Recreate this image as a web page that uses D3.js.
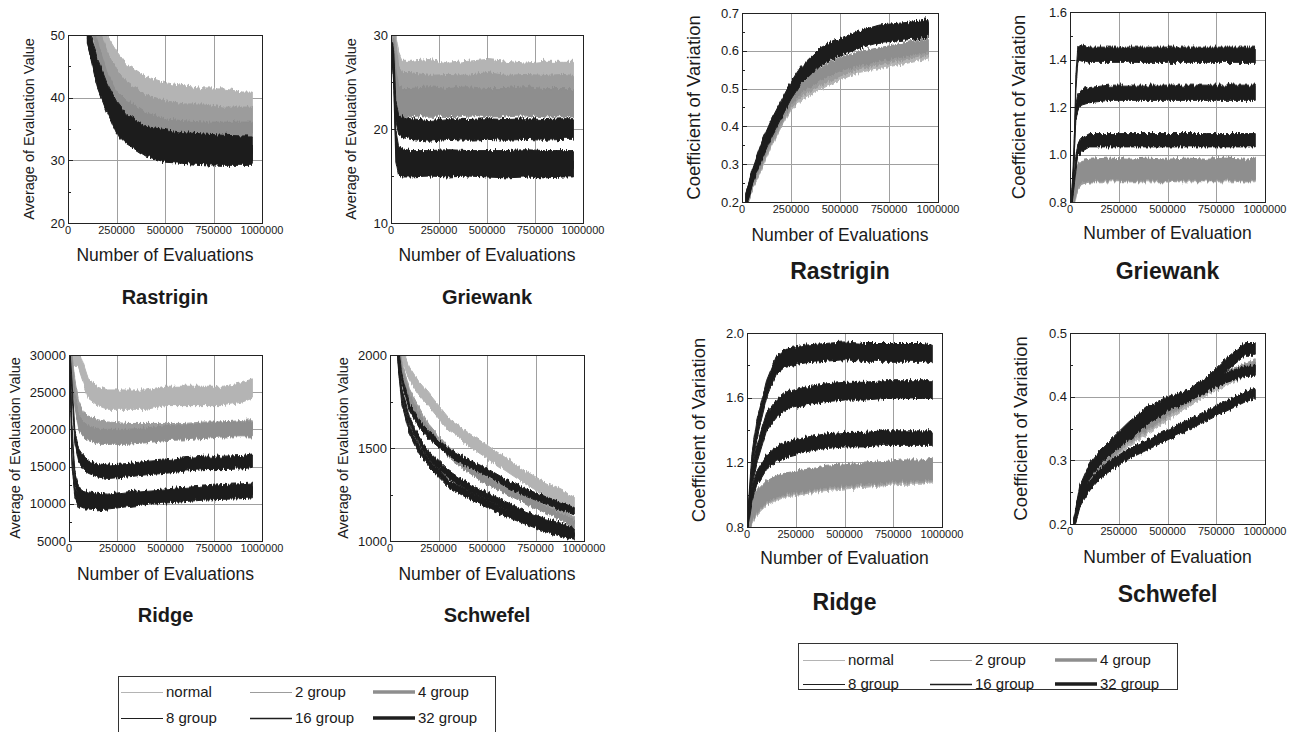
<!DOCTYPE html>
<html><head><meta charset="utf-8">
<script src="https://cdn.jsdelivr.net/npm/d3@7"></script>
<style>
body{margin:0;background:#fff;}
text{font-family:"Liberation Sans",Arial,Helvetica,sans-serif;fill:#1a1a1a;}
</style></head>
<body><svg id="chart" width="1297" height="732"></svg>
<script>
// ---------- data ----------
const seriesNames = ["normal","2 group","4 group","8 group","16 group","32 group"];
const xTickValues = [0,250000,500000,750000,1000000];

// Average of evaluation value — Rastrigin
const rastAvgX = [100000,150000,200000,250000,300000,400000,500000,600000,700000,800000,900000,950000];
const rastAvgY = [
  [60,53,47.5,45,43,41,40,39.5,39,39,38.5,38.5],
  [58,50,45.5,42.5,40.5,38.5,37.5,37,37,36.5,36.5,36.5],
  [55,48,43,40,38.5,36.5,35.5,35.2,35,35,35,35],
  [51,45,41,38,36,34,33.5,33,32.8,32.6,32.5,32.5],
  [50,44,40,37,35,33,32,31.7,31.5,31.3,31.2,31],
  [50,43,39,35.5,34,32,31,30.8,30.6,30.5,30.5,30.5]];
const rastAvgSpread = [2.4,2,1.1,1.4,1.4,1.3];

// Griewank
const griAvgX = [8000,15000,25000,40000,60000,100000,200000,300000,400000,500000,600000,700000,800000,900000,950000];
const griAvgY = [
  [28,30,28,26,25,25,25.2,24.8,25,25.2,25,24.8,25,25,25],
  [28,29,27,24.5,23.8,23.8,23.5,23.6,23.5,23.8,23.5,23.6,23.5,23.6,23.5],
  [28,28,25,23,22.8,22.8,23,22.8,23,22.8,22.8,23,22.8,22.8,22.8],
  [28,27,22,20.5,20.2,20,19.8,20,19.9,20,19.9,20,19.9,20,20],
  [28,26,19,17.2,17,16.8,16.8,16.9,16.8,16.8,16.8,16.9,16.8,16.8,16.8],
  [28,25,17.5,16,15.8,15.8,15.9,15.8,15.9,15.8,15.7,15.8,15.7,15.8,15.8]];
const griAvgSpread = [2.2,2.2,1.5,1.1,0.9,0.9];

// Ridge
const ridAvgX = [5000,15000,30000,50000,75000,100000,150000,200000,300000,400000,500000,600000,700000,800000,900000,950000];
const ridAvgY = [
  [30000,30000,30000,29500,27500,25500,24500,24000,24000,24000,24500,24500,24500,24500,25000,25500],
  [30000,29500,26000,23000,21500,21000,20500,20200,20000,20000,20000,20000,20200,20200,20400,20500],
  [30000,28500,24000,21000,20000,19500,19000,19000,19000,19200,19500,19600,19800,20000,20000,20000],
  [29500,26000,19000,16500,15500,15000,14500,14300,14500,14800,15000,15300,15500,15500,15600,15800],
  [29500,20000,13500,11500,11000,10800,10600,10500,10800,11000,11200,11400,11600,11800,11900,12000],
  [29500,16000,11500,10300,10000,10000,9900,10000,10300,10600,10800,11000,11200,11300,11400,11500]];
const ridAvgSpread = [1300,800,1000,900,800,700];

// Schwefel
const schAvgX = [40000,60000,100000,150000,200000,300000,400000,500000,600000,700000,800000,900000,950000];
const schAvgY = [
  [2150,2010,1900,1820,1760,1630,1550,1480,1410,1340,1280,1230,1200],
  [2100,1950,1800,1700,1610,1490,1410,1340,1290,1240,1190,1140,1110],
  [2080,1920,1770,1670,1590,1470,1390,1320,1270,1220,1170,1120,1090],
  [2050,1880,1720,1630,1570,1480,1420,1370,1310,1260,1220,1180,1160],
  [2000,1810,1650,1540,1460,1360,1290,1240,1190,1140,1100,1070,1050],
  [1980,1760,1600,1490,1420,1310,1250,1200,1150,1110,1070,1040,1030]];
const schAvgSpread = [35,18,18,20,20,20];

// Coefficient of variation — Rastrigin
const rastCvX = [20000,50000,100000,150000,200000,250000,300000,400000,500000,600000,700000,800000,900000,950000];
const rastCvY = [
  [0.2,0.25,0.31,0.37,0.42,0.465,0.49,0.52,0.545,0.565,0.575,0.585,0.595,0.6],
  [0.2,0.25,0.315,0.375,0.425,0.47,0.5,0.53,0.555,0.575,0.585,0.595,0.605,0.61],
  [0.2,0.255,0.32,0.38,0.43,0.475,0.505,0.54,0.565,0.58,0.59,0.6,0.61,0.615],
  [0.2,0.26,0.33,0.39,0.44,0.49,0.53,0.58,0.605,0.625,0.64,0.645,0.65,0.655],
  [0.2,0.26,0.335,0.395,0.445,0.495,0.535,0.585,0.61,0.63,0.645,0.65,0.655,0.66],
  [0.2,0.265,0.34,0.4,0.45,0.5,0.54,0.59,0.615,0.635,0.65,0.655,0.66,0.665]];
const rastCvSpread = [0.022,0.022,0.018,0.018,0.018,0.018];

// Griewank
const griCvX = [10000,20000,30000,40000,60000,100000,200000,300000,400000,500000,600000,700000,800000,900000,950000];
const griCvY = [
  [0.8,0.82,0.86,0.9,0.92,0.93,0.93,0.93,0.93,0.93,0.93,0.93,0.93,0.93,0.93],
  [0.8,0.83,0.87,0.9,0.92,0.93,0.935,0.93,0.935,0.93,0.935,0.93,0.935,0.93,0.935],
  [0.8,0.84,0.88,0.91,0.93,0.935,0.94,0.935,0.94,0.935,0.94,0.935,0.94,0.935,0.94],
  [0.82,0.88,0.96,1.02,1.04,1.06,1.06,1.06,1.06,1.06,1.06,1.06,1.06,1.06,1.06],
  [0.82,1.0,1.18,1.22,1.24,1.25,1.26,1.26,1.26,1.26,1.26,1.26,1.26,1.26,1.26],
  [0.82,0.95,1.3,1.42,1.43,1.42,1.42,1.42,1.42,1.42,1.42,1.42,1.42,1.42,1.42]];
const griCvSpread = [0.045,0.045,0.045,0.028,0.032,0.032];

// Ridge
const ridCvX = [5000,25000,50000,100000,150000,200000,300000,400000,500000,600000,700000,800000,900000,950000];
const ridCvY = [
  [0.8,0.88,0.94,1.0,1.03,1.05,1.07,1.09,1.1,1.11,1.12,1.13,1.13,1.14],
  [0.8,0.89,0.95,1.01,1.04,1.06,1.08,1.1,1.11,1.12,1.13,1.14,1.14,1.15],
  [0.8,0.9,0.96,1.02,1.05,1.07,1.09,1.11,1.12,1.13,1.14,1.15,1.15,1.16],
  [0.85,1.0,1.1,1.2,1.25,1.28,1.31,1.33,1.34,1.34,1.35,1.35,1.35,1.35],
  [0.85,1.1,1.25,1.45,1.53,1.58,1.61,1.63,1.64,1.64,1.65,1.65,1.65,1.65],
  [0.85,1.2,1.4,1.65,1.8,1.85,1.87,1.88,1.89,1.88,1.88,1.88,1.88,1.87]];
const ridCvSpread = [0.065,0.065,0.065,0.045,0.055,0.055];

// Schwefel
const schCvX = [20000,50000,100000,150000,200000,300000,400000,500000,600000,700000,800000,900000,950000];
const schCvY = [
  [0.2,0.24,0.27,0.285,0.3,0.33,0.35,0.37,0.39,0.41,0.425,0.44,0.445],
  [0.2,0.24,0.272,0.29,0.305,0.335,0.355,0.375,0.395,0.415,0.43,0.445,0.45],
  [0.2,0.24,0.275,0.293,0.308,0.338,0.358,0.378,0.398,0.418,0.433,0.443,0.445],
  [0.2,0.235,0.26,0.278,0.29,0.31,0.325,0.34,0.355,0.37,0.385,0.4,0.405],
  [0.2,0.245,0.28,0.3,0.315,0.34,0.365,0.385,0.4,0.415,0.43,0.44,0.44],
  [0.2,0.25,0.285,0.305,0.32,0.35,0.375,0.39,0.4,0.42,0.45,0.475,0.475]];
const schCvSpread = [0.008,0.008,0.008,0.008,0.008,0.01];

// ---------- styles ----------
const seriesColor = ["#b4b4b4","#9c9c9c","#8e8e8e","#1e1e1e","#1e1e1e","#1e1e1e"];
const legendWidth = [1,1.2,3.5,1,1.6,3.5];

const panels = [
  {x:rastAvgX, y:rastAvgY, s:rastAvgSpread, l:68,t:35,r:262,b:223, dom:[20,50], ticks:[20,30,40,50], minor:[25,35,45],
   yLabel:"Average of Evaluation Value", yLx:30, xLabel:"Number of Evaluations", xLy:261, title:"Rastrigin", tY:304, big:false},
  {x:griAvgX, y:griAvgY, s:griAvgSpread, l:391,t:35,r:583,b:223, dom:[10,30], ticks:[10,20,30], minor:[15,25],
   yLabel:"Average of Evaluation Value", yLx:352, xLabel:"Number of Evaluations", xLy:261, title:"Griewank", tY:304, big:false},
  {x:ridAvgX, y:ridAvgY, s:ridAvgSpread, l:69,t:355,r:262,b:541, dom:[5000,30000], ticks:[5000,10000,15000,20000,25000,30000], minor:[7500,12500,17500,22500,27500],
   yLabel:"Average of Evaluation Value", yLx:16, xLabel:"Number of Evaluations", xLy:580, title:"Ridge", tY:622, big:false},
  {x:schAvgX, y:schAvgY, s:schAvgSpread, l:390,t:355,r:584,b:541, dom:[1000,2000], ticks:[1000,1500,2000], minor:[1250,1750],
   yLabel:"Average of Evaluation Value", yLx:344, xLabel:"Number of Evaluations", xLy:580, title:"Schwefel", tY:622, big:false},
  {x:rastCvX, y:rastCvY, s:rastCvSpread, l:742,t:13,r:938,b:202, dom:[0.2,0.7], ticks:[0.2,0.3,0.4,0.5,0.6,0.7], minor:[0.25,0.35,0.45,0.55,0.65],
   yLabel:"Coefficient of Variation", yLx:695, xLabel:"Number of Evaluations", xLy:241, title:"Rastrigin", tY:279, big:true},
  {x:griCvX, y:griCvY, s:griCvSpread, l:1070,t:12,r:1265,b:202, dom:[0.8,1.6], ticks:[0.8,1.0,1.2,1.4,1.6], minor:[0.9,1.1,1.3,1.5],
   yLabel:"Coefficient of Variation", yLx:1020, xLabel:"Number of Evaluation", xLy:239, title:"Griewank", tY:279, big:true},
  {x:ridCvX, y:ridCvY, s:ridCvSpread, l:747,t:333,r:942,b:527, dom:[0.8,2.0], ticks:[0.8,1.2,1.6,2.0], minor:[1.0,1.4,1.8],
   yLabel:"Coefficient of Variation", yLx:700, xLabel:"Number of Evaluation", xLy:564, title:"Ridge", tY:610, big:true},
  {x:schCvX, y:schCvY, s:schCvSpread, l:1070,t:333,r:1265,b:524, dom:[0.2,0.5], ticks:[0.2,0.3,0.4,0.5], minor:[0.25,0.35,0.45],
   yLabel:"Coefficient of Variation", yLx:1022, xLabel:"Number of Evaluation", xLy:563, title:"Schwefel", tY:602, big:true}
];

const svg = d3.select("#chart");
const defs = svg.append("defs");

// texture filter: jagged vertical edges (visual style only)
const f = defs.append("filter").attr("id","jag").attr("x","-5%").attr("y","-20%").attr("width","110%").attr("height","140%")
  .attr("filterUnits","objectBoundingBox");
f.append("feTurbulence").attr("type","fractalNoise").attr("baseFrequency","0.6 0.04").attr("numOctaves",2).attr("seed",3).attr("result","n");
f.append("feColorMatrix").attr("in","n").attr("type","matrix")
  .attr("values","0 0 0 0 0.5  0 1 0 0 0  0 0 0 0 0  0 0 0 0 1").attr("result","m");
f.append("feDisplacementMap").attr("in","SourceGraphic").attr("in2","m").attr("scale",7)
  .attr("xChannelSelector","R").attr("yChannelSelector","G");

panels.forEach((p,pi)=>{
  const x = d3.scaleLinear().domain([0,1000000]).range([p.l,p.r]);
  const y = d3.scaleLinear().domain(p.dom).range([p.b,p.t]);
  const g = svg.append("g");
  const cid = "clip"+pi;
  defs.append("clipPath").attr("id",cid)
     .append("rect").attr("x",p.l).attr("y",p.t).attr("width",p.r-p.l).attr("height",p.b-p.t);

  // grid
  g.selectAll(".vg").data(xTickValues.slice(1,-1)).join("line")
    .attr("x1",d=>Math.round(x(d))+0.5).attr("x2",d=>Math.round(x(d))+0.5).attr("y1",p.t).attr("y2",p.b)
    .attr("stroke","#a0a0a0").attr("stroke-width",1);
  g.selectAll(".hg").data(p.ticks.slice(1,-1)).join("line")
    .attr("y1",d=>Math.round(y(d))+0.5).attr("y2",d=>Math.round(y(d))+0.5).attr("x1",p.l).attr("x2",p.r)
    .attr("stroke","#a0a0a0").attr("stroke-width",1);

  // series bands
  const outer = g.append("g").attr("clip-path",`url(#${cid})`);
  const dg = outer.append("g").attr("filter","url(#jag)");
  p.y.forEach((vals,si)=>{
    const pts = vals.map((v,i)=>({x:p.x[i], v}));
    const area = d3.area().x(d=>x(d.x)).y0(d=>y(d.v - p.s[si])).y1(d=>y(d.v + p.s[si])).curve(d3.curveLinear);
    dg.append("path").datum(pts).attr("d",area)
      .attr("fill",seriesColor[si]).attr("stroke",seriesColor[si]).attr("stroke-width",1);
  });

  // frame
  g.append("rect").attr("x",p.l+0.5).attr("y",p.t+0.5).attr("width",p.r-p.l).attr("height",p.b-p.t)
    .attr("fill","none").attr("stroke","#222").attr("stroke-width",1);

  // ticks (inside)
  g.selectAll(".mt").data(p.ticks.concat(p.minor)).join("line")
    .attr("x1",p.l).attr("x2",d=>p.l+(p.minor.includes(d)?3:5))
    .attr("y1",d=>Math.round(y(d))+0.5).attr("y2",d=>Math.round(y(d))+0.5)
    .attr("stroke","#222");

  g.selectAll(".yt").data(p.ticks).join("text")
    .attr("x",p.l-3).attr("y",d=>y(d)+4.5).attr("text-anchor","end").attr("font-size",13)
    .attr("fill","#1a1a1a")
    .text(d=> p.big ? d3.format(".1f")(d) : d);
  g.selectAll(".xt").data(xTickValues).join("text")
    .attr("x",d=>x(d)).attr("y",p.b+11).attr("text-anchor","middle").attr("font-size",11)
    .attr("fill","#1a1a1a")
    .text(d=>d);

  g.append("text").attr("transform",`translate(${p.yLx},${(p.t+p.b)/2}) rotate(-90)`)
    .attr("text-anchor","middle").attr("dominant-baseline","middle")
    .attr("font-size",p.big?18.5:14.5).text(p.yLabel);
  g.append("text").attr("x",(p.l+p.r)/2).attr("y",p.xLy).attr("text-anchor","middle")
    .attr("font-size",17.5).text(p.xLabel);
  g.append("text").attr("x",(p.l+p.r)/2).attr("y",p.tY).attr("text-anchor","middle")
    .attr("font-size",p.big?23:20).attr("font-weight","bold").text(p.title);
});

// legends
function legend(bx,by,bw,bh,cols,rows){
  const g = svg.append("g");
  g.append("rect").attr("x",bx+0.5).attr("y",by+0.5).attr("width",bw).attr("height",bh)
    .attr("fill","#fff").attr("stroke","#333").attr("stroke-width",1);
  seriesNames.forEach((n,i)=>{
    const c = i%3, r = Math.floor(i/3);
    const lx = cols[c], ly = rows[r] + (legendWidth[i] < 2 ? 0.5 : 0);
    g.append("line").attr("x1",lx).attr("x2",lx+42).attr("y1",ly).attr("y2",ly)
      .attr("stroke",seriesColor[i]).attr("stroke-width",legendWidth[i]);
    g.append("text").attr("x",lx+45).attr("y",rows[r]+5).attr("font-size",15).text(n);
  });
}
legend(118,676,377,70,[121,250,373],[692,718]);
legend(798,643,379,46,[803,930,1055],[660,684]);
</script></body></html>
